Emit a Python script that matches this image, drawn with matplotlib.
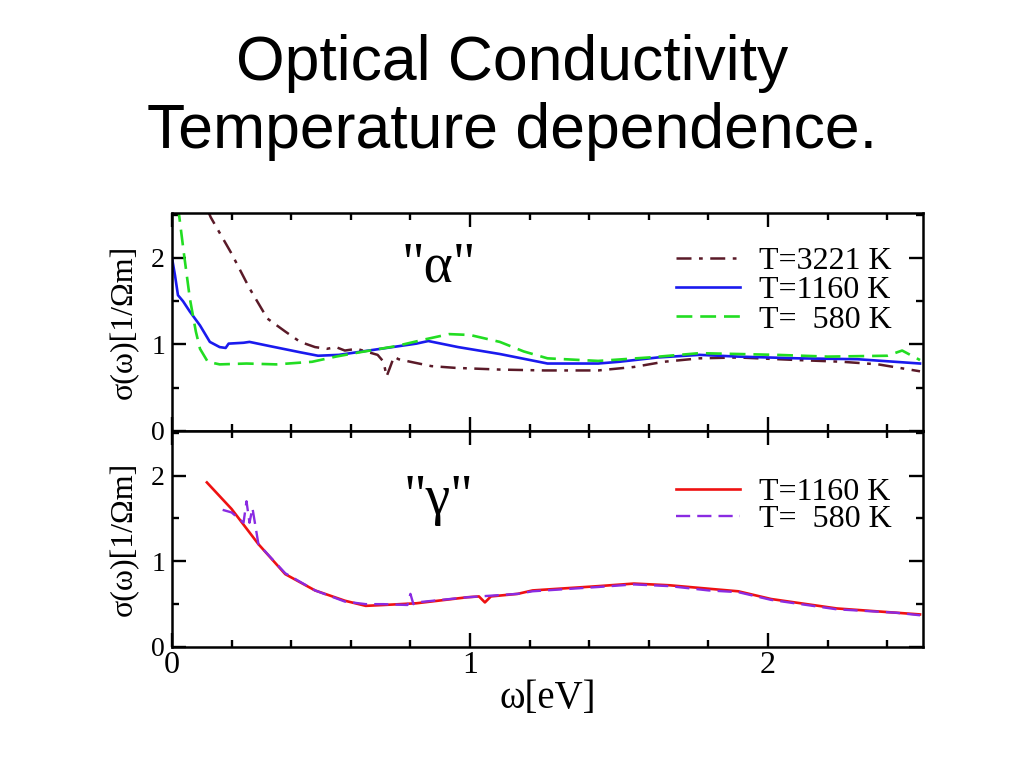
import matplotlib
matplotlib.use("Agg")
import matplotlib.pyplot as plt
from matplotlib.ticker import MultipleLocator

# ---------------- data ----------------
# top panel "alpha"
x_a3221 = [0.12, 0.13, 0.20, 0.26, 0.32, 0.38, 0.43, 0.48, 0.52, 0.55, 0.58, 0.62, 0.65, 0.69, 0.71, 0.72, 0.73, 0.745, 0.76, 0.80, 0.87, 0.95, 1.10, 1.25, 1.43, 1.55, 1.65, 1.77, 1.90, 2.10, 2.25, 2.37, 2.51]
y_a3221 = [2.55, 2.47, 2.05, 1.65, 1.30, 1.15, 1.03, 0.97, 0.95, 0.97, 0.93, 0.95, 0.92, 0.88, 0.80, 0.63, 0.72, 0.86, 0.83, 0.80, 0.75, 0.73, 0.71, 0.70, 0.70, 0.74, 0.80, 0.84, 0.85, 0.82, 0.80, 0.77, 0.69]

x_a1160 = [0.00, 0.01, 0.02, 0.037, 0.06, 0.094, 0.127, 0.16, 0.18, 0.19, 0.24, 0.26, 0.33, 0.43, 0.49, 0.56, 0.66, 0.76, 0.82, 0.86, 0.96, 1.10, 1.26, 1.43, 1.50, 1.63, 1.77, 1.90, 2.10, 2.30, 2.51]
y_a1160 = [2.00, 1.80, 1.57, 1.50, 1.38, 1.22, 1.03, 0.97, 0.96, 1.01, 1.02, 1.03, 0.98, 0.91, 0.87, 0.88, 0.93, 0.98, 1.01, 1.04, 0.97, 0.89, 0.78, 0.78, 0.80, 0.85, 0.88, 0.86, 0.84, 0.83, 0.78]

x_a580 = [0.02, 0.04, 0.06, 0.08, 0.094, 0.12, 0.16, 0.25, 0.35, 0.47, 0.55, 0.63, 0.75, 0.85, 0.93, 1.00, 1.10, 1.18, 1.26, 1.43, 1.60, 1.77, 2.03, 2.20, 2.40, 2.45, 2.51]
y_a580 = [2.60, 2.05, 1.53, 1.15, 0.95, 0.80, 0.77, 0.78, 0.77, 0.80, 0.86, 0.91, 0.98, 1.06, 1.12, 1.11, 1.03, 0.92, 0.84, 0.81, 0.85, 0.90, 0.88, 0.86, 0.87, 0.93, 0.82]

# bottom panel "gamma"
x_g1160 = [0.117, 0.20, 0.29, 0.38, 0.48, 0.58, 0.65, 0.71, 0.82, 0.99, 1.03, 1.05, 1.07, 1.16, 1.21, 1.43, 1.55, 1.67, 1.80, 1.90, 2.01, 2.23, 2.43, 2.51]
y_g1160 = [1.92, 1.61, 1.20, 0.85, 0.66, 0.54, 0.48, 0.49, 0.51, 0.58, 0.59, 0.52, 0.59, 0.62, 0.66, 0.71, 0.74, 0.72, 0.68, 0.65, 0.56, 0.45, 0.40, 0.38]

x_g580 = [0.17, 0.20, 0.24, 0.25, 0.26, 0.27, 0.29, 0.38, 0.48, 0.58, 0.65, 0.71, 0.79, 0.80, 0.81, 0.82, 0.99, 1.16, 1.21, 1.43, 1.55, 1.67, 1.80, 1.90, 2.01, 2.23, 2.43, 2.51]
y_g580 = [1.60, 1.57, 1.45, 1.70, 1.45, 1.62, 1.20, 0.86, 0.66, 0.53, 0.50, 0.50, 0.49, 0.62, 0.50, 0.52, 0.58, 0.62, 0.65, 0.70, 0.73, 0.71, 0.66, 0.64, 0.55, 0.44, 0.40, 0.37]

label_3221 = "T=3221 K"
label_1160 = "T=1160 K"
label_580 = "T=  580 K"
title = "Optical Conductivity\nTemperature dependence."
ylabel = "σ(ω)[1/Ωm]"
xlabel = "ω[eV]"
xticks = [0, 1, 2]
yticks = [0, 1, 2]

# ---------------- figure ----------------
serif = ["Liberation Serif", "DejaVu Serif"]
fig = plt.figure(figsize=(10.24, 7.68), dpi=100)
fig.text(0.5, 0.873, title, ha="center", va="center",
         fontsize=45, family=["Liberation Sans", "DejaVu Sans"], linespacing=1.2)

left, right = 172 / 1024, 923 / 1024
top_y, mid_y, bot_y = 1 - 213 / 768, 1 - 431 / 768, 1 - 647 / 768
ax1 = fig.add_axes([left, mid_y, right - left, top_y - mid_y])
ax2 = fig.add_axes([left, bot_y, right - left, mid_y - bot_y], sharex=ax1)

ax1.plot(x_a3221, y_a3221, color="#5a1a28", lw=1.8, dashes=[6, 3, 1.5, 3], label=label_3221)
ax1.plot(x_a1160, y_a1160, color="#1a1aee", lw=1.9, label=label_1160)
ax1.plot(x_a580, y_a580, color="#22dd22", lw=1.9, dashes=[6, 3], label=label_580)

ax2.plot(x_g1160, y_g1160, color="#ee1111", lw=1.9, label=label_1160)
ax2.plot(x_g580, y_g580, color="#8a2be2", lw=1.7, dashes=[6, 3], label=label_580)

for ax in (ax1, ax2):
    ax.set_xlim(0, 2.52)
    ax.set_ylim(0, 2.52)
    ax.set_xticks(xticks)
    ax.set_yticks(yticks)
    ax.xaxis.set_minor_locator(MultipleLocator(0.2))
    ax.yaxis.set_minor_locator(MultipleLocator(0.5))
    ax.tick_params(which="both", direction="in", top=True, right=True, width=1.7)
    ax.tick_params(which="major", length=10)
    ax.tick_params(which="minor", length=5)
    ax.tick_params(axis="y", labelsize=20, pad=5)
    ax.tick_params(axis="x", labelsize=23, pad=3)
    for s in ax.spines.values():
        s.set_linewidth(1.8)
    for lab in ax.get_xticklabels() + ax.get_yticklabels():
        lab.set_family(serif)
    ax.set_ylabel(ylabel, fontsize=23, family=serif, labelpad=9)

ax1.legend(loc="upper right", bbox_to_anchor=(0.975, 0.905), frameon=False,
           prop={"family": serif, "size": 23}, handlelength=2.0,
           labelspacing=0.0, handletextpad=0.6, borderaxespad=0.0)
ax2.legend(loc="upper right", bbox_to_anchor=(0.975, 0.842), frameon=False,
           prop={"family": serif, "size": 23}, handlelength=2.0,
           labelspacing=-0.08, handletextpad=0.6, borderaxespad=0.0)

ax1.tick_params(axis="x", labelbottom=False)
ax2.set_xlabel(xlabel, fontsize=28, family=serif, labelpad=0)

ax1.text(0.355, 0.75, "\"α\"", transform=ax1.transAxes, ha="center", va="center",
         fontsize=40, family=serif)
ax2.text(0.355, 0.68, "\"γ\"", transform=ax2.transAxes, ha="center", va="center",
         fontsize=40, family=serif)

fig.savefig("out.png", dpi=100)
